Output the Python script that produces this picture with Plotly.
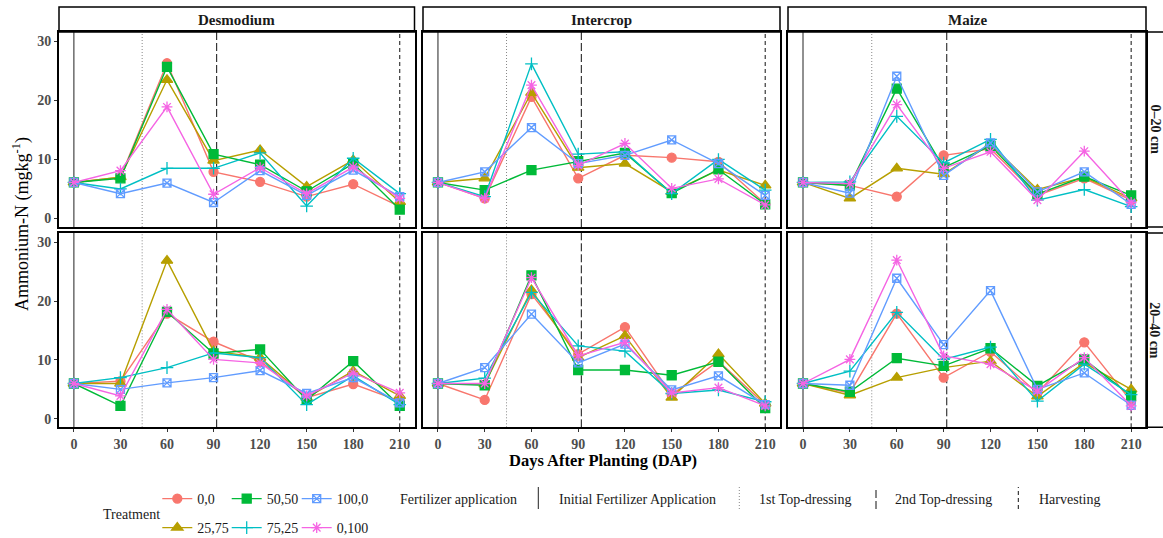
import plotly.graph_objects as go

W, H = 1163, 538

days = [0, 30, 60, 90, 120, 150, 180, 210]
treatments = ["0,0", "25,75", "50,50", "75,25", "100,0", "0,100"]
colors = ["#F8766D", "#B79F00", "#00BA38", "#00BFC4", "#619CFF", "#F564E3"]
symbols = ["circle", "triangle-up", "square", "cross-thin-open", "square-x-open", "asterisk-open"]
marker_sizes = [9, 10, 9, 9, 8, 9]
crops = ["Desmodium", "Intercrop", "Maize"]
depths = ["0\u201320 cm", "20\u201340 cm"]

# values per treatment (rows follow `treatments`), columns follow `days`
desmodium_0_20 = [
    [6.1, 7.0, 26.3, 7.9, 6.2, 3.7, 5.8, 2.0],
    [6.1, 7.0, 23.5, 9.8, 11.6, 5.4, 9.9, 2.8],
    [6.1, 6.8, 25.7, 10.9, 9.1, 4.6, 9.3, 1.5],
    [6.1, 5.0, 8.5, 8.5, 11.1, 2.1, 10.2, 4.2],
    [6.1, 4.2, 6.0, 2.7, 8.1, 3.9, 8.2, 3.7],
    [6.1, 8.1, 18.9, 4.1, 8.6, 4.2, 8.7, 3.4],
]
intercrop_0_20 = [
    [6.1, 3.4, 20.6, 6.8, 10.7, 10.3, 9.6, 2.5],
    [6.1, 6.8, 21.3, 8.6, 9.3, 4.5, 8.2, 5.6],
    [6.1, 4.8, 8.2, 9.7, 11.1, 4.3, 8.3, 2.4],
    [6.1, 3.7, 26.2, 10.9, 11.3, 4.2, 10.0, 4.8],
    [6.1, 7.9, 15.4, 9.3, 10.7, 13.3, 9.3, 3.9],
    [6.1, 3.4, 22.6, 9.0, 12.7, 5.1, 6.7, 2.3],
]
maize_0_20 = [
    [6.1, 5.6, 3.7, 10.7, 11.8, 3.9, 6.8, 3.1],
    [6.1, 3.4, 8.5, 7.5, 12.6, 4.9, 7.0, 3.4],
    [6.1, 5.6, 22.0, 8.6, 12.3, 4.1, 7.1, 3.9],
    [6.1, 6.2, 17.3, 9.4, 13.4, 3.1, 4.9, 2.0],
    [6.1, 4.3, 24.1, 7.3, 12.8, 4.5, 7.9, 2.4],
    [6.1, 5.9, 19.3, 8.5, 11.3, 3.1, 11.4, 2.7],
]
desmodium_20_40 = [
    [6.0, 6.4, 17.9, 13.1, 9.8, 3.6, 5.9, 3.0],
    [6.0, 6.0, 26.9, 11.5, 10.4, 3.6, 8.1, 3.9],
    [6.0, 2.2, 18.2, 11.1, 11.8, 3.2, 9.8, 2.2],
    [6.0, 7.0, 8.7, 11.2, 10.4, 2.4, 7.3, 2.4],
    [6.0, 5.0, 6.1, 7.0, 8.2, 4.3, 7.0, 2.7],
    [6.0, 3.9, 18.6, 10.1, 9.5, 3.9, 7.8, 4.4],
]
intercrop_20_40 = [
    [6.0, 3.2, 21.2, 11.0, 15.6, 4.1, 9.8, 2.4],
    [6.0, 5.9, 21.9, 10.4, 14.1, 3.6, 11.0, 2.6],
    [6.0, 5.7, 24.4, 8.3, 8.3, 7.4, 9.7, 1.8],
    [6.0, 6.9, 21.5, 12.4, 11.5, 4.3, 4.9, 2.9],
    [6.0, 8.7, 17.8, 9.5, 12.7, 4.9, 7.3, 2.4],
    [6.0, 6.0, 24.0, 10.7, 13.0, 4.4, 5.3, 2.2],
]
maize_20_40 = [
    [6.0, 4.4, 17.9, 7.0, 11.4, 4.4, 13.0, 3.0],
    [6.0, 4.0, 7.0, 8.7, 9.8, 3.8, 9.5, 5.0],
    [6.0, 4.6, 10.3, 9.0, 12.0, 5.6, 10.1, 3.9],
    [6.0, 8.1, 18.1, 10.1, 12.2, 3.0, 9.3, 4.1],
    [6.0, 5.7, 23.9, 12.6, 21.8, 5.0, 7.8, 2.3],
    [6.0, 10.1, 27.0, 10.7, 9.3, 4.7, 10.4, 2.2],
]

panels = [
    [desmodium_0_20, intercrop_0_20, maize_0_20],
    [desmodium_20_40, intercrop_20_40, maize_20_40],
]

event_names = ["Initial Fertilizer Application", "1st Top-dressing", "2nd Top-dressing", "Harvesting"]
event_days = [0, 44, 92, 210]
event_dash = ["solid", "1px,2px", "8px,3px", "4px,3px"]
event_color = ["#222222", "#888888", "#111111", "#111111"]

y_ticks = [0, 10, 20, 30]

FONT = "Liberation Serif"

# ---- layout geometry (pixels) ----
col_px = [(59, 414.5), (423, 780), (788, 1146)]
row_px = [(32, 227), (233, 427.3)]
strip_top = 7
# legend key positions (marker centre x, row centre y) per treatment
legend_key_x = [177.3, 177.3, 246.7, 246.7, 316.7, 316.7]
legend_key_y = [499, 528, 499, 528, 499, 528]


def fx(px):
    return px / W


def fy(py):
    return 1 - py / H


fig = go.Figure()

legend_names = ["legend"] + [f"legend{i}" for i in range(2, 7)]

for r in range(2):
    for c in range(3):
        idx = r * 3 + c + 1
        xa = "x" if idx == 1 else f"x{idx}"
        ya = "y" if idx == 1 else f"y{idx}"
        data = panels[r][c]
        for ti in range(len(treatments)):
            first = (r == 0 and c == 0)
            fig.add_trace(go.Scatter(
                x=days, y=data[ti], xaxis=xa, yaxis=ya,
                mode="lines+markers",
                name=treatments[ti],
                legend=legend_names[ti],
                showlegend=first,
                line=dict(color=colors[ti], width=1.4),
                marker=dict(symbol=symbols[ti], size=marker_sizes[ti], color=colors[ti],
                            line=dict(color=colors[ti], width=1.3)),
            ))

layout_axes = {}
for r in range(2):
    for c in range(3):
        idx = r * 3 + c + 1
        xk = "xaxis" if idx == 1 else f"xaxis{idx}"
        yk = "yaxis" if idx == 1 else f"yaxis{idx}"
        ya = "y" if idx == 1 else f"y{idx}"
        xa = "x" if idx == 1 else f"x{idx}"
        layout_axes[xk] = dict(
            domain=[fx(col_px[c][0]), fx(col_px[c][1])],
            anchor=ya, range=[-9.6, 219.5], tickvals=days,
            showticklabels=(r == 1), ticks="outside" if r == 1 else "",
            ticklen=3, tickcolor="#333333", tickwidth=1,
            tickfont=dict(family=FONT, size=14, color="#4D4D4D", weight="bold"),
            showgrid=False, zeroline=False, showline=True, mirror=True,
            linecolor="black", linewidth=1.8, automargin=False,
        )
        layout_axes[yk] = dict(
            domain=[fy(row_px[r][1]), fy(row_px[r][0])],
            anchor=xa, range=[-1.45, 31.6], tickvals=y_ticks,
            showticklabels=(c == 0), ticks="outside" if c == 0 else "",
            ticklen=3, tickcolor="#333333", tickwidth=1,
            tickfont=dict(family=FONT, size=14, color="#4D4D4D", weight="bold"),
            showgrid=False, zeroline=False, showline=True, mirror=True,
            linecolor="black", linewidth=1.8, automargin=False,
        )
        for ei in range(len(event_days)):
            fig.add_shape(type="line", xref=xa, yref=f"{ya} domain",
                          x0=event_days[ei], x1=event_days[ei], y0=0, y1=1,
                          line=dict(color=event_color[ei], width=1, dash=event_dash[ei]),
                          layer="below")

shapes_extra = []
annotations = []
# top strips
for c in range(3):
    shapes_extra.append(dict(type="rect", xref="paper", yref="paper",
                             x0=fx(col_px[c][0]), x1=fx(col_px[c][1]),
                             y0=fy(row_px[0][0]), y1=fy(strip_top),
                             line=dict(color="black", width=1.5), fillcolor="white", layer="below"))
    annotations.append(dict(text=f"<b>{crops[c]}</b>", xref="paper", yref="paper",
                            x=fx((col_px[c][0] + col_px[c][1]) / 2), y=fy((strip_top + row_px[0][0]) / 2),
                            xanchor="center", yanchor="middle",
                            showarrow=False, font=dict(family=FONT, size=15, color="#1A1A1A")))
# right strips
for r in range(2):
    shapes_extra.append(dict(type="rect", xref="paper", yref="paper",
                             x0=fx(col_px[2][1]), x1=fx(W + 20),
                             y0=fy(row_px[r][1]), y1=fy(row_px[r][0]),
                             line=dict(color="black", width=1.5), fillcolor="white", layer="below"))
    annotations.append(dict(text=f"<b>{depths[r]}</b>", xref="paper", yref="paper",
                            x=fx(1155), y=fy((row_px[r][0] + row_px[r][1]) / 2), textangle=90,
                            xanchor="center", yanchor="middle", borderpad=0,
                            showarrow=False, font=dict(family=FONT, size=14, color="#1A1A1A")))

# axis titles
annotations.append(dict(text="<b>Days After Planting (DAP)</b>", xref="paper", yref="paper",
                        x=fx((col_px[0][0] + col_px[2][1]) / 2), y=fy(460), showarrow=False,
                        xanchor="center", yanchor="middle", borderpad=0,
                        font=dict(family=FONT, size=16.5, color="black")))
annotations.append(dict(text="Ammonium-N (mgkg<sup>-1</sup>)", xref="paper", yref="paper",
                        x=fx(21), y=fy(224), textangle=-90, showarrow=False,
                        xanchor="center", yanchor="middle",
                        font=dict(family=FONT, size=18, color="black")))

# legend: treatment title
annotations.append(dict(text="Treatment", xref="paper", yref="paper", x=fx(101), y=fy(514),
                        xanchor="left", yanchor="middle",
                        showarrow=False, font=dict(family=FONT, size=14, color="#1A1A1A")))
# legend: fertilizer application
annotations.append(dict(text="Fertilizer application", xref="paper", yref="paper", x=fx(398), y=fy(499),
                        xanchor="left", yanchor="middle",
                        showarrow=False, font=dict(family=FONT, size=14, color="#1A1A1A")))
key_x = [538.3, 739.3, 876, 1018.3]
label_x = [556.7, 756.7, 893.3, 1036.7]
for ei in range(len(event_names)):
    shapes_extra.append(dict(type="line", xref="paper", yref="paper",
                             x0=fx(key_x[ei]), x1=fx(key_x[ei]), y0=fy(509), y1=fy(487),
                             line=dict(color=event_color[ei], width=1, dash=event_dash[ei])))
    annotations.append(dict(text=event_names[ei], xref="paper", yref="paper", x=fx(label_x[ei]), y=fy(499),
                            xanchor="left", yanchor="middle",
                            showarrow=False, font=dict(family=FONT, size=14, color="#1A1A1A")))

legend_common = dict(orientation="h", xanchor="left", yanchor="middle",
                     bgcolor="rgba(0,0,0,0)", borderwidth=0,
                     font=dict(family=FONT, size=14, color="#1A1A1A"))
legends = {}
for ti in range(len(treatments)):
    legends[legend_names[ti]] = dict(x=fx(legend_key_x[ti] - 20), y=fy(legend_key_y[ti]), **legend_common)

fig.update_layout(
    width=W, height=H, autosize=False,
    margin=dict(l=0, r=0, t=0, b=0, autoexpand=False),
    paper_bgcolor="white", plot_bgcolor="white",
    font=dict(family=FONT),
    annotations=annotations,
    **legends,
    **layout_axes,
)
for s in shapes_extra:
    fig.add_shape(**s)

fig.write_html("out.html", config={"displayModeBar": False},
               post_script="document.body.style.margin='0px';document.body.style.overflow='hidden';")
